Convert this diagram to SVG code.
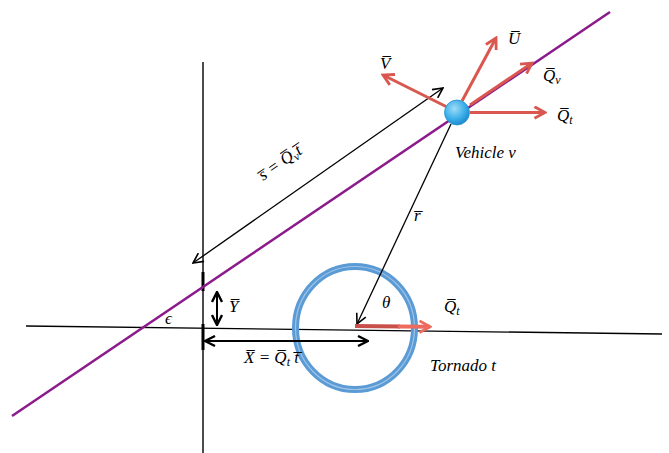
<svg xmlns="http://www.w3.org/2000/svg" width="669" height="453" viewBox="0 0 669 453">
<defs>
<style>
.ax{stroke:#000;stroke-width:1.4;fill:none}
.bk{stroke:#000;stroke-width:1.3;fill:none}
.rd{stroke:#d9574e;stroke-width:3;fill:none}
.lbl{font-family:"Liberation Serif","DejaVu Serif",serif;font-style:italic;font-size:17px;fill:#000}
.sub{font-size:12px}
</style>
<marker id="ab" viewBox="0 0 12 12" refX="11" refY="6" markerWidth="12" markerHeight="12" markerUnits="userSpaceOnUse" orient="auto-start-reverse">
<path d="M1,1 L11,6 L1,11" fill="none" stroke="#000" stroke-width="1.6"/>
</marker>
<marker id="ab2" viewBox="0 0 12 12" refX="11" refY="6" markerWidth="12" markerHeight="12" markerUnits="userSpaceOnUse" orient="auto-start-reverse">
<path d="M1,1 L11,6 L1,11" fill="none" stroke="#000" stroke-width="2.4"/>
</marker>
<marker id="ar" viewBox="0 0 12 12" refX="10" refY="6" markerWidth="14" markerHeight="14" markerUnits="userSpaceOnUse" orient="auto">
<path d="M1,1 L10,6 L1,11" fill="none" stroke="#d9574e" stroke-width="2.4"/>
</marker>
<marker id="ar2" viewBox="0 0 12 12" refX="10" refY="6" markerWidth="14" markerHeight="14" markerUnits="userSpaceOnUse" orient="auto">
<path d="M1,1 L10,6 L1,11" fill="none" stroke="#ec6a5e" stroke-width="2.4"/>
</marker>
<radialGradient id="ball" cx="0.4" cy="0.35" r="0.7">
<stop offset="0" stop-color="#9fdcf8"/>
<stop offset="0.6" stop-color="#3aaee8"/>
<stop offset="1" stop-color="#1685c8"/>
</radialGradient>
</defs>

<g id="axes">
<line class="ax" x1="26" y1="326" x2="662" y2="334"/>
<line class="ax" x1="203" y1="62" x2="203" y2="453"/>
<line x1="203" y1="272" x2="203" y2="291" stroke="#000" stroke-width="3"/>
<line x1="203" y1="324" x2="203" y2="350" stroke="#000" stroke-width="3"/>
</g>

<g id="path-line">
<line x1="12" y1="416" x2="610" y2="12" stroke="#8b1a8b" stroke-width="2.5"/>
</g>

<g id="tornado">
<ellipse cx="355" cy="328" rx="59.5" ry="61.5" fill="none" stroke="#5b9bd5" stroke-width="7"/>
<ellipse cx="355" cy="328" rx="59.5" ry="61.5" fill="none" stroke="#9cc3e8" stroke-width="1.2"/>
<text class="lbl" x="430" y="371">Tornado t</text>
</g>

<g id="connectors">
<line class="bk" x1="443" y1="88" x2="193" y2="263" marker-start="url(#ab)" marker-end="url(#ab)"/>
<line class="bk" x1="451" y1="124" x2="357" y2="324" marker-end="url(#ab)"/>
<line x1="205" y1="341" x2="368" y2="341" stroke="#000" stroke-width="2" marker-start="url(#ab2)" marker-end="url(#ab2)"/>
<line x1="217" y1="292" x2="217" y2="325" stroke="#000" stroke-width="2" marker-start="url(#ab2)" marker-end="url(#ab2)"/>
<line x1="355" y1="326" x2="400" y2="326.5" stroke="#c9504a" stroke-width="4"/>
<line x1="398" y1="326.5" x2="430" y2="326.8" stroke="#ec6a5e" stroke-width="4" marker-end="url(#ar2)"/>
<line class="rd" x1="447" y1="107" x2="383" y2="75" marker-end="url(#ar)"/>
<line class="rd" x1="462" y1="101" x2="496" y2="38" marker-end="url(#ar)"/>
<line class="rd" x1="470" y1="105" x2="532" y2="63" marker-end="url(#ar)"/>
<line class="rd" x1="470" y1="112.5" x2="545" y2="112.5" marker-end="url(#ar)"/>
</g>

<g id="vehicle">
<circle cx="457" cy="112.5" r="12.5" fill="url(#ball)" stroke="#2a8fd0" stroke-width="0.8"/>
<text class="lbl" x="455" y="158">Vehicle v</text>
</g>

<g id="labels">
<text class="lbl" x="508" y="44">U̅</text>
<text class="lbl" x="380" y="69">V̅</text>
<text class="lbl" x="543" y="81">Q̅<tspan class="sub" dy="3">v</tspan></text>
<text class="lbl" x="557" y="121">Q̅<tspan class="sub" dy="3">t</tspan></text>
<text class="lbl" x="414" y="221">r̅</text>
<text class="lbl" font-size="14" x="382" y="308">θ</text>
<text class="lbl" x="444" y="312">Q̅<tspan class="sub" dy="3">t</tspan></text>
<text class="lbl" x="229" y="312">Y̅</text>
<text class="lbl" font-size="14" x="165" y="324">ϵ</text>
<text class="lbl" x="244" y="363">X̅ = Q̅<tspan class="sub" dy="3">t</tspan><tspan dy="-3"> t̅</tspan></text>
<text class="lbl" font-size="18" font-style="normal" transform="translate(283,167) rotate(-35)" text-anchor="middle">s̅ = Q̅<tspan class="sub" dy="3" font-style="italic">v</tspan><tspan dy="-3" font-style="italic">t̅</tspan></text>
</g>
</svg>
